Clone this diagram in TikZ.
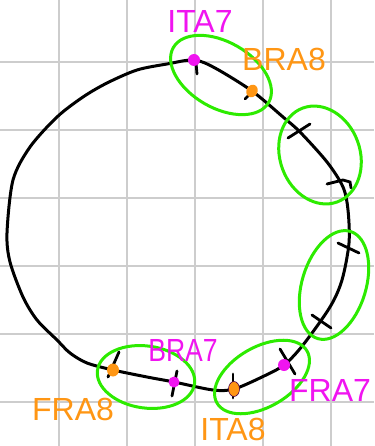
\documentclass[tikz,border=0pt]{standalone}
\usepackage{fontspec}
\setmainfont{Liberation Sans}
\usepackage{graphicx}
\usetikzlibrary{shapes.geometric, positioning}
\definecolor{penpink}{RGB}{240,20,240}
\definecolor{penorange}{RGB}{255,150,20}
\definecolor{pengreen}{RGB}{45,235,0}
\definecolor{gridgray}{RGB}{205,205,205}
\tikzset{
  gridln/.style={draw=gridgray, line width=2.6pt},
  ring/.style={draw=black, line width=3pt, line join=round},
  grp/.style={ellipse, draw=pengreen, line width=3pt, inner sep=0pt},
  dotp/.style={circle, fill=penpink, inner sep=0pt, minimum size=12pt},
  doto/.style={ellipse, fill=penorange, inner sep=0pt,
               minimum width=11pt, minimum height=13pt},
  tic/.style={draw=black, line width=2.8pt, line cap=round},
  lblp/.style={text=penpink, font=\fontsize{32}{32}\selectfont, inner sep=0pt},
  lblo/.style={lblp, text=penorange}
}

\begin{document}
\begin{tikzpicture}[x=1pt, y=-1pt]
  \useasboundingbox (0,0) rectangle (374,446);
  % grid
  \foreach \gx in {59,127,...,331}
    \draw[gridln] (\gx,0) -- (\gx,446);
  \foreach \gy in {62,130,...,402}
    \draw[gridln] (0,\gy) -- (374,\gy);

  % stops on the ring
  \coordinate (pita7) at (194,60);
  \coordinate (pbra8) at (252,91);
  \coordinate (pfra7) at (284,365);
  \coordinate (pita8) at (234,389);
  \coordinate (pbra7) at (174,382);
  \coordinate (pfra8) at (113,370);

  \draw[ring] plot[smooth cycle, tension=0.5] coordinates {
    (pita7) (215,68) (pbra8) (283,117) (300,132) (327,162) (343,187)
    (348,210) (349,243) (342,280) (330,307) (303,345) (pfra7) (262,377)
    (pita8) (213,390) (pbra7) (147,377) (pfra8) (87,363) (70,353)
    (57,340) (37,320) (23,297) (10,262) (7,233) (13,180) (30,147)
    (57,117) (83,97) (107,83) (137,70) (167,64)};

  % ticks
  \foreach \ax/\ay/\bx/\by in {196/63/197/74, 245/99/249/95,
      288/138/310/124, 338/243/359/253, 312/315/331/328,
      280/349/295/374, 233/374/233/398, 177/371/172/396, 119/352/108/377}
    \draw[tic] (\ax,\ay) -- (\bx,\by);
  \draw[tic] (327,184) -- (343,180) -- (350,182) -- (351,188);

  \node[dotp] (ita7) at (pita7) {};
  \node[doto, rotate=-30] (bra8) at (pbra8) {};
  \node[dotp] (fra7) at (pfra7) {};
  \node[doto, draw=violet!60!black, line width=0.6pt,
        minimum height=15pt] (ita8) at (pita8) {};
  \node[dotp, minimum size=11pt] (bra7) at (pbra7) {};
  \node[doto, minimum width=12pt] (fra8) at (pfra8) {};

  % green groups
  \node[grp, rotate=-30, minimum width=110pt, minimum height=66pt] (g1) at (221,75) {};
  \node[grp, rotate=20, minimum width=80pt, minimum height=100pt] (g2) at (320,155) {};
  \node[grp, rotate=73, minimum width=112pt, minimum height=64pt] (g3) at (334,285) {};
  \node[grp, rotate=-8, minimum width=98pt, minimum height=62pt] (g4) at (146,377) {};
  \node[grp, rotate=30, minimum width=104pt, minimum height=60pt] (g5) at (262,377) {};

  % labels
  \node[lblp] (lita7) at (200,21) {ITA7};
  \node[lblo] (lbra8) at (284,59) {BRA8};
  \node[lblp] (lfra7) at (330,390) {FRA7};
  \node[lblo] (lita8) at (233,429) {ITA8};
  \node[lblp] (lbra7) at (183,350) {\scalebox{0.83}[1]{BRA7}};
  \node[lblo] (lfra8) at (73,409) {FRA8};
\end{tikzpicture}
\end{document}
